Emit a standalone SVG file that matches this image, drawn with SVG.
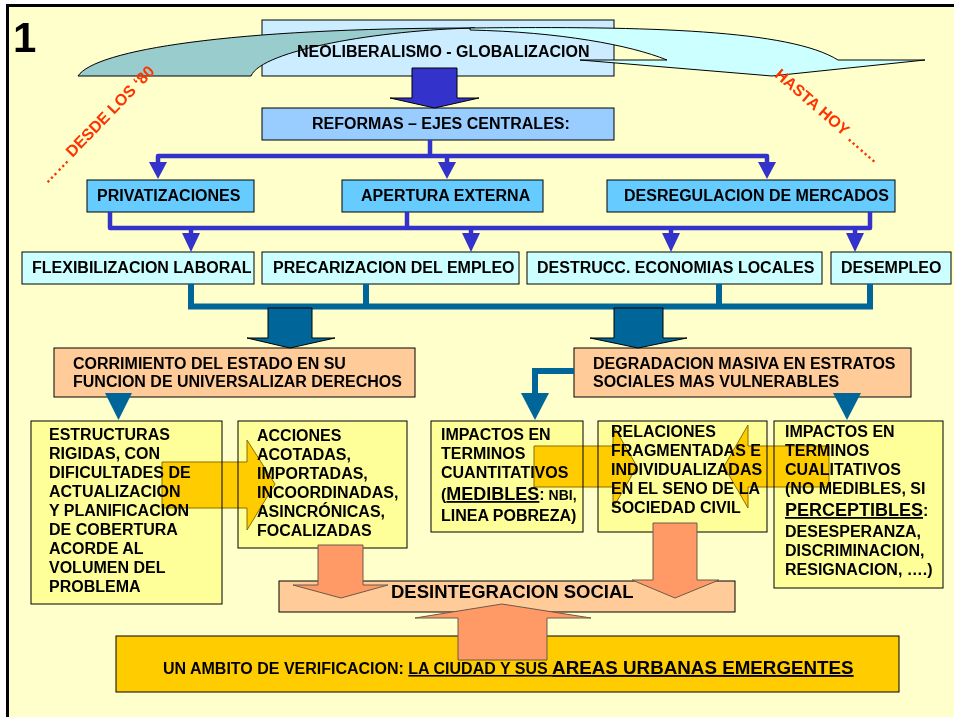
<svg xmlns="http://www.w3.org/2000/svg" width="954" height="717" viewBox="0 0 954 717">
<defs>
<style>
.t{font-family:"Liberation Sans",Arial,sans-serif;font-weight:bold;fill:#000}
.b{stroke:#000;stroke-width:1}
.lb{fill:#CCECFF}
.rf{fill:#99CCFF}
.md{fill:#66CCFF}
.cy{fill:#CCFFFF}
.pe{fill:#FFCC99}
.ye{fill:#FFFF99}
.go{fill:#FFCC00}
.red{font-family:"Liberation Sans",Arial,sans-serif;font-weight:bold;fill:#FF3300;font-size:16px}
.bl{fill:none;stroke:#3333CC;stroke-width:4.5;stroke-linejoin:round}
.blh{fill:#3333CC}
.tl{fill:none;stroke:#006699;stroke-width:6}
.tlh{fill:#006699}
.ya{fill:#FFCC00;stroke:#8a6d00;stroke-width:1;mix-blend-mode:multiply}
.sa{fill:#FF9966;stroke:#6b5a4a;stroke-width:1}
.u{text-decoration:underline}
</style>
</defs>
<rect width="954" height="717" fill="#fff"/>
<rect x="7.5" y="5.5" width="960" height="720" fill="#FFFFCC" stroke="#000" stroke-width="3"/>
<text class="t" x="13" y="52" font-size="42">1</text>

<g id="n-neoliberalismo">
<rect class="lb b" x="262" y="20" width="352" height="56"/>
<path d="M78,76 C95,50 230,28 475,28 C380,30 262,50 251,76 Z" fill="#99CCCC" stroke="#000" stroke-width="1"/>
<path d="M470,28 C650,26 790,30 838,60 L925,60 L772,76 L580,60 L667,60 C630,45 560,32 470,30 Z" fill="#CCFFFF" stroke="#000" stroke-width="1"/>
<text class="t" x="297" y="57" font-size="16">NEOLIBERALISMO - GLOBALIZACION</text>
</g>

<text class="red" transform="translate(97,124) rotate(-46)" x="0" y="6" text-anchor="middle">…… DESDE LOS ‘80</text>
<text class="red" transform="translate(828,115) rotate(41)" x="0" y="6" text-anchor="middle">HASTA HOY …….</text>

<g id="n-reformas">
<rect class="rf b" x="262" y="108" width="352" height="32"/>
<text class="t" x="312" y="129" font-size="16">REFORMAS – EJES CENTRALES:</text>
</g>
<g id="n-privatizaciones">
<rect class="md b" x="87" y="180" width="167" height="32"/>
<text class="t" x="97" y="201" font-size="16">PRIVATIZACIONES</text>
</g>
<g id="n-apertura">
<rect class="md b" x="342" y="180" width="201" height="32"/>
<text class="t" x="361" y="201" font-size="16">APERTURA EXTERNA</text>
</g>
<g id="n-desregulacion">
<rect class="md b" x="607" y="180" width="288" height="32"/>
<text class="t" x="624" y="201" font-size="16">DESREGULACION DE MERCADOS</text>
</g>
<g id="n-flexibilizacion">
<rect class="cy b" x="22" y="252" width="232" height="32"/>
<text class="t" x="32" y="273" font-size="16">FLEXIBILIZACION LABORAL</text>
</g>
<g id="n-precarizacion">
<rect class="cy b" x="262" y="252" width="257" height="32"/>
<text class="t" x="273" y="273" font-size="16">PRECARIZACION DEL EMPLEO</text>
</g>
<g id="n-destrucc">
<rect class="cy b" x="527" y="252" width="295" height="32"/>
<text class="t" x="537" y="273" font-size="16">DESTRUCC. ECONOMIAS LOCALES</text>
</g>
<g id="n-desempleo">
<rect class="cy b" x="831" y="252" width="120" height="32"/>
<text class="t" x="841" y="273" font-size="16">DESEMPLEO</text>
</g>
<g id="n-corrimiento">
<rect class="pe b" x="54" y="348" width="361" height="49"/>
<text class="t" font-size="16"><tspan x="73" y="369">CORRIMIENTO DEL ESTADO EN SU</tspan><tspan x="73" y="387">FUNCION DE UNIVERSALIZAR DERECHOS</tspan></text>
</g>
<g id="n-degradacion">
<rect class="pe b" x="574" y="348" width="337" height="49"/>
<text class="t" font-size="16"><tspan x="593" y="369">DEGRADACION MASIVA EN ESTRATOS</tspan><tspan x="593" y="387">SOCIALES MAS VULNERABLES</tspan></text>
</g>
<g id="n-estructuras">
<rect class="ye b" x="31" y="421" width="191" height="183"/>
<text class="t" font-size="16"><tspan x="49" y="440">ESTRUCTURAS</tspan><tspan x="49" y="459">RIGIDAS, CON</tspan><tspan x="49" y="478">DIFICULTADES DE</tspan><tspan x="49" y="497">ACTUALIZACION</tspan><tspan x="49" y="516">Y PLANIFICACION</tspan><tspan x="49" y="535">DE COBERTURA</tspan><tspan x="49" y="554">ACORDE AL</tspan><tspan x="49" y="573">VOLUMEN DEL</tspan><tspan x="49" y="592">PROBLEMA</tspan></text>
</g>
<g id="n-acciones">
<rect class="ye b" x="238" y="421" width="169" height="127"/>
<text class="t" font-size="16"><tspan x="257" y="441">ACCIONES</tspan><tspan x="257" y="460">ACOTADAS,</tspan><tspan x="257" y="479">IMPORTADAS,</tspan><tspan x="257" y="498">INCOORDINADAS,</tspan><tspan x="257" y="517">ASINCRÓNICAS,</tspan><tspan x="257" y="536">FOCALIZADAS</tspan></text>
</g>
<g id="n-cuantitativos">
<rect class="ye b" x="431" y="421" width="152" height="111"/>
<text class="t" font-size="16"><tspan x="441" y="440">IMPACTOS EN</tspan><tspan x="441" y="459">TERMINOS</tspan><tspan x="441" y="478">CUANTITATIVOS</tspan><tspan x="441" y="500">(</tspan><tspan class="u" font-size="18">MEDIBLES</tspan><tspan>:</tspan><tspan font-size="14"> NBI,</tspan><tspan x="441" y="521">LINEA POBREZA)</tspan></text>
</g>
<g id="n-relaciones">
<rect class="ye b" x="598" y="421" width="169" height="111"/>
<text class="t" font-size="16"><tspan x="611" y="437">RELACIONES</tspan><tspan x="611" y="456">FRAGMENTADAS E</tspan><tspan x="611" y="475">INDIVIDUALIZADAS</tspan><tspan x="611" y="494">EN EL SENO DE LA</tspan><tspan x="611" y="513">SOCIEDAD CIVIL</tspan></text>
</g>
<g id="n-cualitativos">
<rect class="ye b" x="774" y="421" width="169" height="167"/>
<text class="t" font-size="16"><tspan x="785" y="437">IMPACTOS EN</tspan><tspan x="785" y="456">TERMINOS</tspan><tspan x="785" y="475">CUALITATIVOS</tspan><tspan x="785" y="494">(NO MEDIBLES, SI</tspan><tspan x="785" y="516" class="u" font-size="18">PERCEPTIBLES</tspan><tspan>:</tspan><tspan x="785" y="537">DESESPERANZA,</tspan><tspan x="785" y="556">DISCRIMINACION,</tspan><tspan x="785" y="575">RESIGNACION, ….)</tspan></text>
</g>
<g id="n-desintegracion">
<rect class="pe b" x="279" y="581" width="456" height="31"/>
<text class="t" x="391" y="598" font-size="18.5">DESINTEGRACION SOCIAL</text>
</g>
<g id="n-ambito">
<rect class="go b" x="116" y="636" width="783" height="56"/>
<text class="t" x="163" y="674" font-size="16">UN AMBITO DE VERIFICACION: <tspan class="u">LA CIUDAD Y SUS <tspan font-size="18.8">AREAS URBANAS EMERGENTES</tspan></tspan></text>
</g>

<g id="connectors">
<polygon class="b" fill="#3333CC" points="412,68 457,68 457,98 479,98 434.5,108 390,98 412,98"/>
<path class="bl" d="M430,140 V156 M158,164 V156 H767 V164 M447,156 V164"/>
<polygon class="blh" points="149,162 167,162 158,179"/>
<polygon class="blh" points="438,162 456,162 447,179"/>
<polygon class="blh" points="758,162 776,162 767,179"/>
<path class="bl" d="M110,212 V228 H870 V212 M407,212 V228 M191,228 V235 M471,228 V235 M671,228 V235 M855,228 V235"/>
<polygon class="blh" points="182,233 200,233 191,252"/>
<polygon class="blh" points="462,233 480,233 471,252"/>
<polygon class="blh" points="662,233 680,233 671,252"/>
<polygon class="blh" points="846,233 864,233 855,252"/>
<path class="tl" d="M191,284 V306.5 H870 V284 M366,284 V306.5 M719,284 V306.5"/>
<polygon class="tlh b" points="268,308 312,308 312,338 335,338 290,348 247,338 268,338"/>
<polygon class="tlh b" points="614,308 663,308 663,338 687,338 638,348 590,338 614,338"/>
<polygon class="tlh" points="105,393 132,393 118.5,420"/>
<path class="tl" stroke-width="7" d="M574,371 H535 V395"/>
<polygon class="tlh" points="521,393 549,393 535,420"/>
<polygon class="tlh" points="833,393 861,393 847,420"/>
<polygon class="ya" points="162,462 247,462 247,440 275,484 247,530 247,508 162,508"/>
<polygon class="ya" points="534,446 613,446 613,425 637,466.5 613,508 613,487 534,487"/>
<polygon class="ya" points="829,446 748,446 748,425 724,466.5 748,508 748,487 829,487"/>
<polygon class="sa" points="318,545 363,545 363,585 388,585 341,598 293,585 318,585"/>
<polygon class="sa" points="653,523 697,523 697,580 719,580 675,598 632,580 653,580"/>
<polygon class="sa" points="458,660 547,660 547,618 591,618 502,604 415,618 458,618"/>
</g>
</svg>
